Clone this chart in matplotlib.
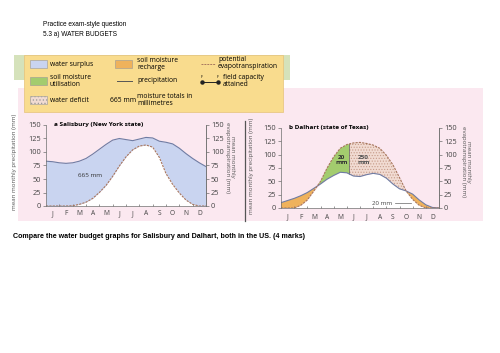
import numpy as np
import matplotlib
matplotlib.use("Agg")
import matplotlib.pyplot as plt
from matplotlib.patches import Rectangle

plt.rcParams['hatch.linewidth'] = 0.5

# data (read at half-month steps, Jan start -> Dec end)
months = ['J', 'F', 'M', 'A', 'M', 'J', 'J', 'A', 'S', 'O', 'N', 'D']
half_month = np.linspace(0, 12, 25)

salisbury_precip = [83, 82, 80, 79, 80, 83, 88, 96, 105, 114, 122, 125, 123,
                    121, 124, 127, 126, 120, 118, 115, 107, 97, 88, 80, 73]
salisbury_pet = [0, 0, 0, 0, 0.5, 3, 7, 14, 25, 38, 55, 74, 91,
                 104, 111, 113, 109, 90, 60, 40, 24, 11, 3, 0, 0]

dalhart_precip = [10, 14, 18, 23, 29, 37, 45, 54, 61, 67, 66, 60, 59,
                  62.5, 65, 63, 56, 45, 36, 32, 26, 15, 6, 1, 0]
dalhart_pet = [0, 0, 0, 5, 15, 32, 50, 75, 96, 112, 119, 122, 123,
               121, 118, 112, 99, 81, 57, 32, 16, 5, 0, 0, 0]
dalhart_split = 5.17  # end of soil moisture utilisation

yticks = [0, 25, 50, 75, 100, 125, 150]

# colours
c_surplus = '#c9d4f0'
c_util = '#a3cc6e'
c_recharge = '#efb25c'
c_deficit = '#f1dbd2'
c_precip = '#6f7ca3'
c_pet = '#a8775e'
c_axis = '#6e6e6e'
c_pink = '#fbe8f0'
c_yellow = '#f9dc8e'
c_green = '#d5e2bb'

W, H = 500, 353
fig = plt.figure(figsize=(W / 100, H / 100), dpi=100)


def fx(x):
    return x / W


def fy(y):
    return 1 - y / H


def rect(x0, y0, x1, y1, **kw):
    kw.setdefault('zorder', -5)
    fig.patches.append(Rectangle((fx(x0), fy(y1)), (x1 - x0) / W, (y1 - y0) / H,
                                 transform=fig.transFigure, **kw))


def txt(x, y, s, **kw):
    kw.setdefault('family', 'Open Sans')
    fig.text(fx(x), fy(y), s, **kw)


# worksheet text
for y, s in [(25, 'Practice exam-style question'), (34, '5.3 a) WATER BUDGETS')]:
    fig.text(fx(43), fy(y), s, fontsize=4.7, family='Liberation Sans', va='center')
fig.text(fx(13), fy(236), 'Compare the water budget graphs for Salisbury and Dalhart, both in the US. (4 marks)',
         fontsize=5.1, family='Liberation Sans', weight='bold', va='center')

# page backgrounds
rect(14, 55, 290, 80, color=c_green, lw=0, zorder=-6)
rect(18, 88, 483, 221, color=c_pink, lw=0, zorder=-6)
rect(24, 55, 283, 112, facecolor=c_yellow, edgecolor='#e6c27a', lw=0.5)

# legend
fs = 4.9
sw = dict(lw=0.4, edgecolor='#999999')
rect(30, 60, 47, 68, facecolor=c_surplus, **sw)
txt(50, 64, 'water surplus', fontsize=fs, va='center')
rect(30, 77, 47, 85, facecolor=c_util, **sw)
txt(50, 81, 'soil moisture\nutilisation', fontsize=fs, va='center', linespacing=1.0)
rect(30, 96, 47, 104, facecolor=c_deficit, hatch='.....', **sw)
txt(50, 100, 'water deficit', fontsize=fs, va='center')
rect(115, 60, 132, 68, facecolor=c_recharge, **sw)
txt(137, 64, 'soil moisture\nrecharge', fontsize=fs, va='center', linespacing=1.0)
fig.add_artist(plt.Line2D([fx(117), fx(132)], [fy(81), fy(81)], color='#555555', lw=0.7))
txt(137, 81, 'precipitation', fontsize=fs, va='center')
txt(110, 100, '665 mm', fontsize=fs, va='center')
txt(137, 100, 'moisture totals in\nmillimetres', fontsize=fs, va='center', linespacing=1.0)
fig.add_artist(plt.Line2D([fx(201), fx(215)], [fy(64), fy(64)], color=c_pet, lw=0.7, ls=(0, (2, 1))))
txt(218, 63, 'potential\nevapotranspiration', fontsize=fs, va='center', linespacing=1.0)
fig.add_artist(plt.Line2D([fx(202), fx(218)], [fy(82), fy(82)], color='#222222', lw=0.7,
                          marker='o', ms=2.2))
txt(202, 77, 'F', fontsize=2.8, ha='center', va='center')
txt(218, 77, 'F', fontsize=2.8, ha='center', va='center')
txt(223, 81, 'field capacity\nattained', fontsize=fs, va='center', linespacing=1.0)

# divider between the two graphs
fig.add_artist(plt.Line2D([fx(245), fx(245)], [fy(121), fy(221)], color='#555555', lw=0.9))


def setup(ax, title, xpad):
    ax.set_xlim(0, 12)
    ax.set_ylim(0, 150)
    ax.set_facecolor('none')
    ax.spines['top'].set_visible(False)
    for s in ['left', 'right', 'bottom']:
        ax.spines[s].set_color(c_axis)
        ax.spines[s].set_linewidth(0.5)
    ax.set_yticks(yticks)
    ax.tick_params(axis='y', length=2.5, width=0.5, color=c_axis, labelsize=5.3,
                   labelcolor='#444444', pad=1)
    ax.set_xticks(np.arange(12) + 0.5)
    ax.set_xticklabels(months, family='Open Sans')
    ax.set_xticks(np.arange(1, 12), minor=True)
    ax.tick_params(axis='x', which='major', length=0, labelsize=4.8, labelcolor='#444444', pad=xpad)
    ax.tick_params(axis='x', which='minor', length=1.5, width=0.5, color=c_axis, direction='in')
    for lab in ax.get_yticklabels():
        lab.set_family('Open Sans')
    ax.text(0.6, 150, title, fontsize=4.6, weight='bold', family='Open Sans', va='center')
    r = ax.twinx()
    r.set_ylim(0, 150)
    r.set_yticks(yticks)
    for s in ['top', 'left', 'bottom']:
        r.spines[s].set_visible(False)
    r.spines['right'].set_color(c_axis)
    r.spines['right'].set_linewidth(0.5)
    r.tick_params(axis='y', length=2.5, width=0.5, color=c_axis, labelsize=5.3,
                  labelcolor='#444444', pad=1)
    for lab in r.get_yticklabels():
        lab.set_family('Open Sans')


# a Salisbury
ax1 = fig.add_axes([fx(46), fy(206), 160 / W, 81 / H])
sp, spet = np.array(salisbury_precip), np.array(salisbury_pet)
ax1.fill_between(half_month, spet, sp, color=c_surplus, lw=0)
ax1.fill_between(half_month, 0, spet, color='white', lw=0)
ax1.plot(half_month, sp, color=c_precip, lw=0.8)
ax1.plot(half_month, spet, color=c_pet, lw=0.8, ls=(0, (2, 1)))
ax1.text(3.3, 57, '665 mm', fontsize=4.6, family='Open Sans', ha='center', va='center', color='#333333')
setup(ax1, 'a Salisbury (New York state)', 3)

# b Dalhart
ax2 = fig.add_axes([fx(281), fy(208), 158 / W, 80 / H])
dp, dpet = np.array(dalhart_precip), np.array(dalhart_pet)
ax2.fill_between(half_month, 0, np.minimum(dp, dpet), color='white', lw=0)
ax2.fill_between(half_month, dpet, dp, where=dp >= dpet, interpolate=True, color=c_recharge, lw=0)
g = ax2.fill_between(half_month, dp, dpet, where=dpet >= dp, interpolate=True, color=c_util, lw=0)
g.set_clip_path(Rectangle((0, 0), dalhart_split, 150, transform=ax2.transData))
d = ax2.fill_between(half_month, dp, dpet, where=dpet >= dp, interpolate=True, facecolor=c_deficit,
                     edgecolor='#c79c8a', hatch='......', lw=0)
d.set_clip_path(Rectangle((dalhart_split, 0), 12, 150, transform=ax2.transData))
ax2.plot([dalhart_split] * 2, [np.interp(dalhart_split, half_month, dp),
                               np.interp(dalhart_split, half_month, dpet)], color='#555555', lw=0.5)
ax2.plot(half_month, dp, color=c_precip, lw=0.8)
ax2.plot(half_month, dpet, color=c_pet, lw=0.8, ls=(0, (2, 1)))
ax2.text(4.6, 90, '20\nmm', fontsize=4.6, weight='bold', family='Open Sans', ha='center', va='center',
         linespacing=0.8, color='#333333')
ax2.text(6.25, 90, '250\nmm', fontsize=4.6, weight='bold', family='Open Sans', ha='center', va='center',
         linespacing=0.8, color='#555555')
ax2.text(7.7, 8, '20 mm', fontsize=4.4, family='Open Sans', ha='center', va='center', color='#444444')
ax2.plot([8.65, 9.9], [8.5, 8.5], color='#666666', lw=0.5)
setup(ax2, 'b Dalhart (state of Texas)', 4)

# axis titles
lab_kw = dict(fontsize=4.4, color='#555555', ha='center', va='center')
txt(15, 162, 'mean monthly precipitation (mm)', rotation=90, **lab_kw)
txt(230, 157, 'mean monthly\nevapotranspiration (mm)', rotation=270, linespacing=1.0, **lab_kw)
txt(251, 166, 'mean monthly precipitation (mm)', rotation=90, **lab_kw)
txt(466, 162, 'mean monthly\nevapotranspiration (mm)', rotation=270, linespacing=1.0, **lab_kw)

fig.savefig('out.png', dpi=100)
